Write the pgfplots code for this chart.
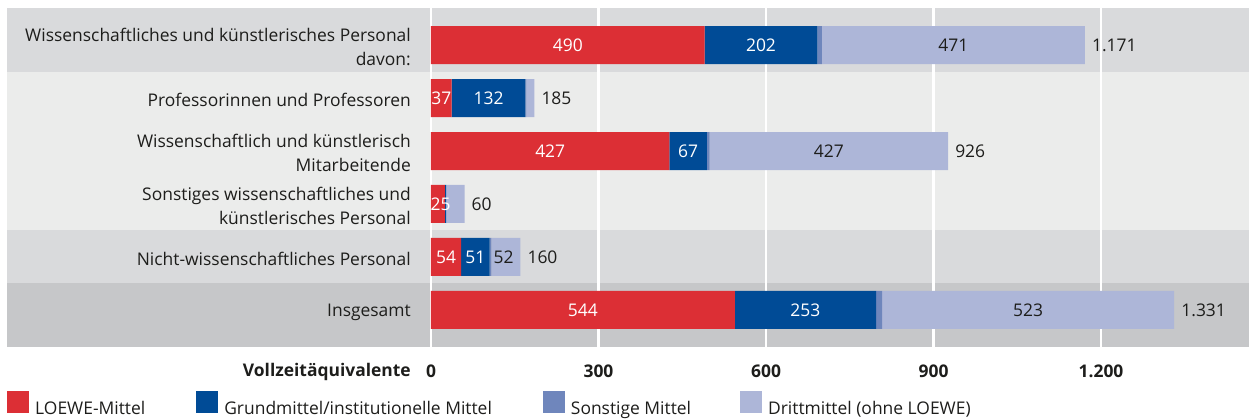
\documentclass[border=0pt]{standalone}
\usepackage{fontspec}
\setmainfont{Open Sans}
\usepackage{pgfplots}
\pgfplotsset{compat=1.18}

\definecolor{loewe}{HTML}{DC2F35}
\definecolor{grund}{HTML}{004B96}
\definecolor{sonst}{HTML}{6F86BC}
\definecolor{dritt}{HTML}{ADB6D8}
\definecolor{bandA}{HTML}{D9DADC}
\definecolor{bandB}{HTML}{EBECEB}
\definecolor{bandC}{HTML}{C6C7C9}
\definecolor{txt}{HTML}{1D1D1B}

\newcommand\lbl{\fontsize{17.5}{24}\selectfont}

\pgfplotsset{
  frame/.style={
    at={(431bp,72bp)}, anchor=south west,
    width=818bp, height=339bp, scale only axis, clip=false,
    xmin=0, xmax=1465, ymin=-0.7, ymax=5.7},
  barlabel/.style={only marks, mark=none, nodes near coords,
    point meta=explicit symbolic,
    every node near coord/.append style={font=\lbl, inner sep=0pt, #1}},
}

\begin{document}
\begin{tikzpicture}
\path[use as bounding box] (0,0) rectangle (1249bp,419bp);
% row bands behind the axis (one row = 52.97bp, axis bottom at 72bp)
\fill[bandC] (7bp,72bp) rectangle (1249bp,135.56bp);
\fill[bandA] (7bp,135.56bp) rectangle (1249bp,188.53bp);
\fill[bandB] (7bp,188.53bp) rectangle (1249bp,347.44bp);
\fill[bandA] (7bp,347.44bp) rectangle (1249bp,411bp);
\begin{axis}[
    frame,
    xbar stacked, bar width=38bp,
    xtick={0,300,600,900,1200}, xticklabels={0,300,600,900,{1.200}},
    ytick={0,1,2,3,4,5},
    yticklabels={Insgesamt, Nicht-wissenschaftliches Personal,
      {Sonstiges wissenschaftliches und\\künstlerisches Personal},
      {Wissenschaftlich und künstlerisch\\Mitarbeitende},
      Professorinnen und Professoren,
      {Wissenschaftliches und künstlerisches Personal\\davon:}},
    xmajorgrids, major grid style={white, line width=2.5bp},
    major tick length=0pt, tick style={draw=none},
    axis line style={draw=none},
    xticklabel style={font=\lbl\bfseries, text=txt, anchor=base, yshift=-30bp},
    yticklabel style={font=\lbl, text=txt, align=right, anchor=east, inner sep=0pt, xshift=-20bp, yshift=-2bp},
    legend columns=4,
    legend style={draw=none, fill=none, inner sep=0pt, font=\lbl, text=txt,
      at={(-0.5183,-0.167)}, anchor=west,
      nodes={inner sep=0pt},
      /tikz/every odd column/.append style={column sep=6bp},
      /tikz/column 2/.append style={column sep=51bp},
      /tikz/column 4/.append style={column sep=51bp},
      /tikz/column 6/.append style={column sep=49bp}},
    legend image code/.code={\fill[#1] (0bp,-5bp) rectangle (22bp,17bp);},
]
% y = 5: Wiss. Personal gesamt ... y = 0: Insgesamt
\addplot[fill=loewe, draw=none] coordinates {(490,5) (37,4) (427,3) (25,2) (54,1) (544,0)};
\addplot[fill=grund, draw=none] coordinates {(202,5) (132,4) (67,3) (2,2) (51,1) (253,0)};
\addplot[fill=sonst, draw=none] coordinates {(8,5) (2,4) (5,3) (0,2) (3,1) (11,0)};
\addplot[fill=dritt, draw=none] coordinates {(471,5) (14,4) (427,3) (33,2) (52,1) (523,0)};
\legend{LOEWE-Mittel, Grundmittel/institutionelle Mittel, Sonstige Mittel, Drittmittel (ohne LOEWE)}
\end{axis}

% second axis, same frame, only for the value labels
\begin{axis}[frame, hide axis]
% inside the red and blue segments
\addplot[barlabel={anchor=center, text=white}]
  coordinates {(245,5) [490] (591,5) [202] (18.5,4) [37] (103,4) [132]
    (213.5,3) [427] (460.5,3) [67] (17,2) [25] (27,1) [54] (79.5,1) [51]
    (272,0) [544] (670.5,0) [253]};
% inside the Drittmittel segments
\addplot[barlabel={anchor=center, text=txt}]
  coordinates {(935.5,5) [471] (712.5,3) [427] (130,1) [52] (1069.5,0) [523]};
% totals at the end of the bars
\addplot[barlabel={anchor=west, text=txt, xshift=7bp}]
  coordinates {(1171,5) [1.171] (185,4) [185] (926,3) [926] (60,2) [60] (160,1) [160] (1331,0) [1.331]};
\end{axis}
\node[anchor=base east, font=\lbl\bfseries, text=txt, inner sep=0pt] at (411bp,42bp) {Vollzeitäquivalente};
\end{tikzpicture}
\end{document}
